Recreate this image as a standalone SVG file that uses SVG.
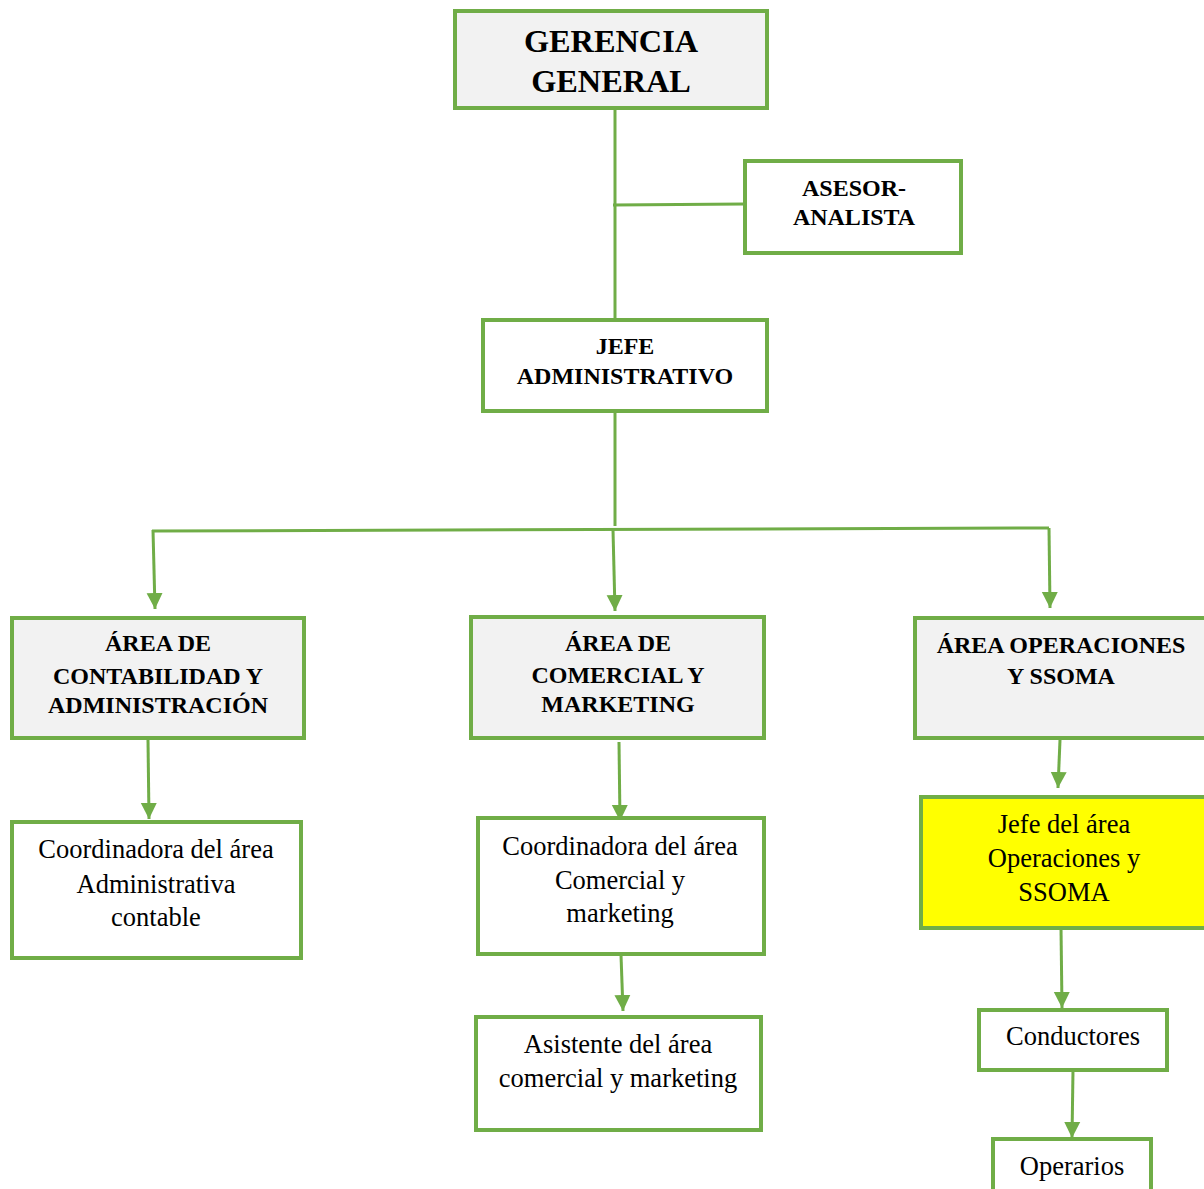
<svg xmlns="http://www.w3.org/2000/svg" width="1204" height="1189" viewBox="0 0 1204 1189">
<style>
.box{stroke:#70AD47;stroke-width:4;}
.g{fill:#F2F2F2;}
.w{fill:#FFFFFF;}
.y{fill:#FFFF00;}
.b{font-family:"Liberation Serif",serif;font-weight:bold;fill:#000;text-anchor:middle;font-size:24px;}
.t{font-size:32.3px;}
.r{font-family:"Liberation Serif",serif;fill:#000;text-anchor:middle;font-size:26.5px;}
.c{stroke:#70AD47;stroke-width:3;fill:none;}
</style>
<defs>
<marker id="a" markerUnits="userSpaceOnUse" markerWidth="16" markerHeight="17" refX="16" refY="8" orient="auto" viewBox="0 0 16 16">
<path d="M0,0 L16,8 L0,16 Z" fill="#70AD47"/>
</marker>
</defs>
<rect width="1204" height="1189" fill="#FFFFFF"/>
<g id="connectors">
<line class="c" x1="615" y1="108" x2="615" y2="320"/>
<line class="c" x1="613" y1="205" x2="745" y2="204"/>
<line class="c" x1="615" y1="411" x2="615" y2="526"/>
<polyline class="c" points="152,531 1049,528"/>
<line class="c" x1="153" y1="530" x2="155" y2="609" marker-end="url(#a)"/>
<line class="c" x1="613" y1="530" x2="615" y2="611" marker-end="url(#a)"/>
<line class="c" x1="1049" y1="528" x2="1050" y2="608" marker-end="url(#a)"/>
<line class="c" x1="148" y1="740" x2="149" y2="819" marker-end="url(#a)"/>
<line class="c" x1="619" y1="742" x2="620" y2="821" marker-end="url(#a)"/>
<line class="c" x1="621" y1="955" x2="623" y2="1011" marker-end="url(#a)"/>
<line class="c" x1="1060" y1="740" x2="1058" y2="788" marker-end="url(#a)"/>
<line class="c" x1="1061" y1="928" x2="1062" y2="1008" marker-end="url(#a)"/>
<line class="c" x1="1073" y1="1070" x2="1072" y2="1138" marker-end="url(#a)"/>
</g>
<g id="gerencia">
<rect class="box g" x="455" y="11" width="312" height="97"/>
<text class="b t" x="611" y="52">GERENCIA</text>
<text class="b t" x="611" y="92">GENERAL</text>
</g>
<g id="asesor">
<rect class="box w" x="745" y="161" width="216" height="92"/>
<text class="b" x="854" y="196">ASESOR-</text>
<text class="b" x="854" y="225">ANALISTA</text>
</g>
<g id="jefe-admin">
<rect class="box w" x="483" y="320" width="284" height="91"/>
<text class="b" x="625" y="354">JEFE</text>
<text class="b" x="625" y="384">ADMINISTRATIVO</text>
</g>
<g id="area-contabilidad">
<rect class="box g" x="12" y="618" width="292" height="120"/>
<text class="b" x="158" y="651">ÁREA DE</text>
<text class="b" x="158" y="684">CONTABILIDAD Y</text>
<text class="b" x="158" y="713">ADMINISTRACIÓN</text>
</g>
<g id="area-comercial">
<rect class="box g" x="471" y="617" width="293" height="121"/>
<text class="b" x="618" y="651">ÁREA DE</text>
<text class="b" x="618" y="683">COMERCIAL Y</text>
<text class="b" x="618" y="712">MARKETING</text>
</g>
<g id="area-operaciones">
<rect class="box g" x="915" y="618" width="295" height="120"/>
<text class="b" x="1061" y="653">ÁREA OPERACIONES</text>
<text class="b" x="1061" y="684">Y SSOMA</text>
</g>
<g id="coord-admin">
<rect class="box w" x="12" y="822" width="289" height="136"/>
<text class="r" x="156" y="858">Coordinadora del área</text>
<text class="r" x="156" y="893">Administrativa</text>
<text class="r" x="156" y="926">contable</text>
</g>
<g id="coord-comercial">
<rect class="box w" x="478" y="818" width="286" height="136"/>
<text class="r" x="620" y="855">Coordinadora del área</text>
<text class="r" x="620" y="889">Comercial y</text>
<text class="r" x="620" y="922">marketing</text>
</g>
<g id="asistente-comercial">
<rect class="box w" x="476" y="1017" width="285" height="113"/>
<text class="r" x="618" y="1053">Asistente del área</text>
<text class="r" x="618" y="1087">comercial y marketing</text>
</g>
<g id="jefe-operaciones">
<rect class="box y" x="921" y="797" width="290" height="131"/>
<text class="r" x="1064" y="833">Jefe del área</text>
<text class="r" x="1064" y="867">Operaciones y</text>
<text class="r" x="1064" y="901">SSOMA</text>
</g>
<g id="conductores">
<rect class="box w" x="979" y="1010" width="188" height="60"/>
<text class="r" x="1073" y="1045">Conductores</text>
</g>
<g id="operarios">
<rect class="box w" x="993" y="1139" width="158" height="60"/>
<text class="r" x="1072" y="1175">Operarios</text>
</g>
</svg>
